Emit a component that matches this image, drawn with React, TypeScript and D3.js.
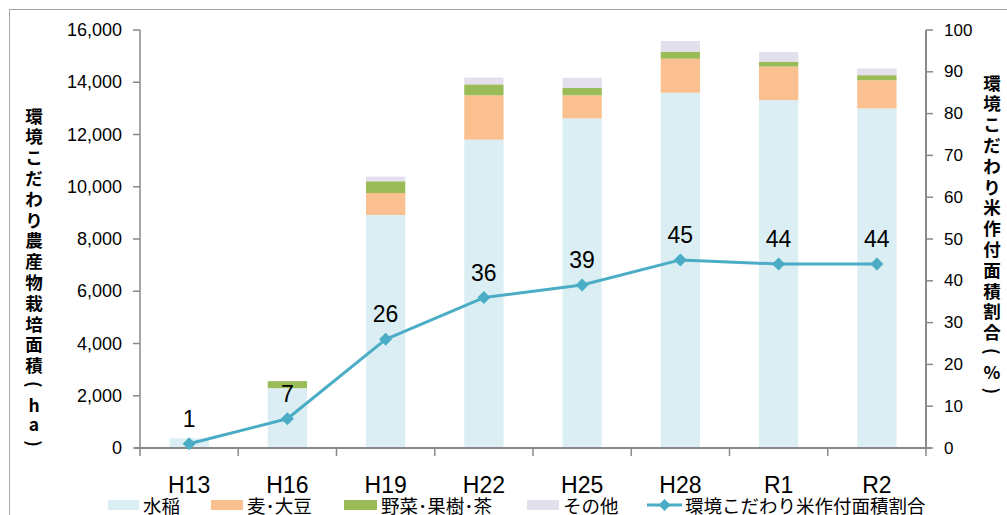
import React from 'react';
import * as d3 from 'd3';

const categories = ['H13', 'H16', 'H19', 'H22', 'H25', 'H28', 'R1', 'R2'];
const rice = [370, 2290, 8920, 11800, 12620, 13600, 13320, 13000];
const wheatSoy = [0, 0, 840, 1700, 880, 1300, 1280, 1080];
const vegFruitTea = [0, 270, 450, 420, 280, 260, 190, 190];
const others = [0, 0, 180, 260, 390, 420, 370, 260];
const ratio = [1, 7, 26, 36, 39, 45, 44, 44];
const leftTicks = [0, 2000, 4000, 6000, 8000, 10000, 12000, 14000, 16000];
const rightTicks = [0, 10, 20, 30, 40, 50, 60, 70, 80, 90, 100];
const seriesNames = ['水稲', '麦･大豆', '野菜･果樹･茶', 'その他'];
const lineName = '環境こだわり米作付面積割合';
const leftTitle = ['環', '境', 'こ', 'だ', 'わ', 'り', '農', '産', '物', '栽', '培', '面', '積', '(', 'h', 'a', ')'];
const rightTitle = ['環', '境', 'こ', 'だ', 'わ', 'り', '米', '作', '付', '面', '積', '割', '合', '(', '%', ')'];

const colors = ['#DAEEF3', '#FAC090', '#9BBB59', '#E4DFEC'];
const lineColor = '#4BACC6';
const axisColor = '#898989';
const jp = '"Noto Sans CJK JP", "Noto Sans", sans-serif';
const num = '"Liberation Sans", Arial, sans-serif';

export default function App() {
  const W = 1007, H = 515;
  const x0 = 140, x1 = 926, yBottom = 448, yTop = 30;
  const x = d3.scaleBand<string>().domain(categories).range([x0, x1]).padding(0);
  const yL = d3.scaleLinear().domain([0, 16000]).range([yBottom, yTop]);
  const yR = d3.scaleLinear().domain([0, 100]).range([yBottom, yTop]);
  const bw = x.bandwidth() * 0.4;

  const stackData = categories.map((c, i) => ({
    cat: c, s0: rice[i], s1: wheatSoy[i], s2: vegFruitTea[i], s3: others[i],
  }));
  const stack = d3.stack<any>().keys(['s0', 's1', 's2', 's3'])(stackData);

  const cx = (c: string) => (x(c) as number) + x.bandwidth() / 2;
  const line = d3.line<number>().x((_, i) => cx(categories[i])).y(d => yR(d));
  const diamond = (px: number, py: number, r: number) =>
    `M${px},${py - r}L${px + r},${py}L${px},${py + r}L${px - r},${py}Z`;

  const legendItems = [
    { x: 108, w: 31, label: seriesNames[0], color: colors[0] },
    { x: 211, w: 32, label: seriesNames[1], color: colors[1] },
    { x: 344, w: 33, label: seriesNames[2], color: colors[2] },
    { x: 527, w: 32, label: seriesNames[3], color: colors[3] },
  ];
  const legY = 505;

  const titleY = (chars: string[], start: number, step: number) => {
    const ys: number[] = [];
    let y = start;
    chars.forEach((ch, i) => {
      ys.push(y);
      const next = chars[i + 1];
      const small = (c?: string) => c === '(' || c === ')' || c === 'h' || c === 'a' || c === '%';
      y += small(ch) || small(next) ? step * 0.95 : step;
    });
    return ys;
  };
  const leftYs = titleY(leftTitle, 115, 20.8);
  const rightYs = titleY(rightTitle, 82, 20.8);

  const renderTitleChar = (ch: string, px: number, py: number, key: number) => {
    if (ch === '(' || ch === ')') {
      return (
        <text key={key} x={0} y={0} transform={`translate(${px},${py}) rotate(90)`}
          textAnchor="middle" dominantBaseline="central" fontFamily={jp} fontWeight="bold" fontSize={17.5} fill="#000">{ch}</text>
      );
    }
    return (
      <text key={key} x={px} y={py} textAnchor="middle" dominantBaseline="central"
        fontFamily={jp} fontWeight="bold" fontSize={17.5} fill="#000">{ch}</text>
    );
  };

  return (
    <svg width={W} height={H} style={{ position: 'absolute', left: 0, top: 0, background: '#fff' }}>
      <rect x={9.5} y={9.5} width={W + 20} height={H + 20} fill="#fff" stroke="#a6a6a6" strokeWidth={1} />

      {/* bars */}
      {stack.map((layer, li) => (
        <g key={li} fill={colors[li]}>
          {layer.map((d, i) => (
            d[1] - d[0] > 0 ? (
              <rect key={i} x={cx(categories[i]) - bw / 2} y={yL(d[1])} width={bw} height={yL(d[0]) - yL(d[1])} />
            ) : null
          ))}
        </g>
      ))}

      {/* left axis */}
      <line x1={x0} x2={x0} y1={yTop} y2={yBottom} stroke={axisColor} strokeWidth={1.5} />
      {leftTicks.map(t => (
        <g key={t}>
          <line x1={x0 - 7} x2={x0} y1={yL(t)} y2={yL(t)} stroke={axisColor} strokeWidth={1.5} />
          <text x={122} y={yL(t)} textAnchor="end" dominantBaseline="central" fontFamily={num} fontSize={18} fill="#000">
            {d3.format(',')(t)}
          </text>
        </g>
      ))}

      {/* right axis */}
      <line x1={x1} x2={x1} y1={yTop} y2={yBottom} stroke={axisColor} strokeWidth={2} />
      {rightTicks.map(t => (
        <g key={t}>
          <line x1={x1} x2={x1 + 7} y1={yR(t)} y2={yR(t)} stroke={axisColor} strokeWidth={1.5} />
          <text x={944} y={yR(t)} textAnchor="start" dominantBaseline="central" fontFamily={num} fontSize={17} fill="#000">
            {t}
          </text>
        </g>
      ))}

      {/* bottom axis */}
      <line x1={x0 - 5} x2={x1 + 5} y1={yBottom} y2={yBottom} stroke={axisColor} strokeWidth={2} />
      {categories.map((c, i) => (
        <g key={c}>
          <line x1={(x(c) as number)} x2={(x(c) as number)} y1={yBottom} y2={yBottom + 8} stroke={axisColor} strokeWidth={1.5} />
          <text x={cx(c)} y={485} textAnchor="middle" dominantBaseline="central" fontFamily={num} fontSize={23} fill="#000">{c}</text>
        </g>
      ))}
      <line x1={x1} x2={x1} y1={yBottom} y2={yBottom + 8} stroke={axisColor} strokeWidth={1.5} />

      {/* line series */}
      <path d={line(ratio) as string} fill="none" stroke={lineColor} strokeWidth={3} strokeLinejoin="round" />
      {ratio.map((v, i) => (
        <g key={i}>
          <path d={diamond(cx(categories[i]), yR(v), 6.5)} fill={lineColor} />
          <text x={cx(categories[i])} y={yR(v) - 17} textAnchor="middle" fontFamily={num} fontSize={23} fill="#000">{v}</text>
        </g>
      ))}

      {/* titles */}
      {leftTitle.map((ch, i) => renderTitleChar(ch, 34, leftYs[i], i))}
      {rightTitle.map((ch, i) => renderTitleChar(ch, 992, rightYs[i], i))}

      {/* legend */}
      {legendItems.map((it, i) => (
        <g key={i}>
          <rect x={it.x} y={legY - 5} width={it.w} height={10} fill={it.color} />
          <text x={it.x + it.w + 4} y={legY} dominantBaseline="central" fontFamily={jp} fontSize={18.5} fill="#000">{it.label}</text>
        </g>
      ))}
      <line x1={647} x2={682} y1={legY} y2={legY} stroke={lineColor} strokeWidth={3} />
      <path d={diamond(664.5, legY, 6)} fill={lineColor} />
      <text x={685} y={legY} dominantBaseline="central" fontFamily={jp} fontSize={18.5} fill="#000">{lineName}</text>
    </svg>
  );
}
